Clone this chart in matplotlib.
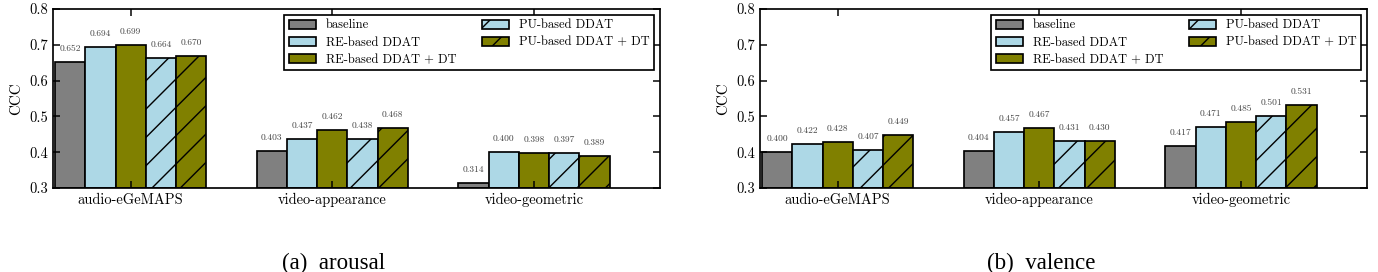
import matplotlib
matplotlib.use("Agg")
import matplotlib.pyplot as plt
import numpy as np

categories = ["audio-eGeMAPS", "video-appearance", "video-geometric"]
methods = ["baseline", "RE-based DDAT", "RE-based DDAT + DT", "PU-based DDAT", "PU-based DDAT + DT"]
arousal = {
    "baseline": [0.652, 0.403, 0.314],
    "RE-based DDAT": [0.694, 0.437, 0.400],
    "RE-based DDAT + DT": [0.699, 0.462, 0.398],
    "PU-based DDAT": [0.664, 0.438, 0.397],
    "PU-based DDAT + DT": [0.670, 0.468, 0.389],
}
valence = {
    "baseline": [0.400, 0.404, 0.417],
    "RE-based DDAT": [0.422, 0.457, 0.471],
    "RE-based DDAT + DT": [0.428, 0.467, 0.485],
    "PU-based DDAT": [0.407, 0.431, 0.501],
    "PU-based DDAT + DT": [0.449, 0.430, 0.531],
}
yticks = [0.3, 0.4, 0.5, 0.6, 0.7, 0.8]
captions = ["(a)  arousal", "(b)  valence"]

colors = ["#808080", "#add8e6", "#808000", "#add8e6", "#808000"]
hatches = [None, None, None, "/", "/"]

DPI = 85
P = 72.0 / DPI  # points per pixel

plt.rcParams["font.family"] = ["cmr10", "DejaVu Serif"]
plt.rcParams["axes.formatter.use_mathtext"] = True
plt.rcParams["hatch.linewidth"] = 1.4 * P

fig = plt.figure(figsize=(1378 / DPI, 272 / DPI), dpi=DPI)
axes_rects = [[53 / 1378, 1 - 188 / 272, 607 / 1378, 179 / 272],
              [760 / 1378, 1 - 188 / 272, 607 / 1378, 179 / 272]]
cap_x = [334 / 1378, 1041 / 1378]
width = 0.15
x = np.arange(len(categories))

for k, (data, rect, cap) in enumerate(zip([arousal, valence], axes_rects, captions)):
    ax = fig.add_axes(rect)
    for i, m in enumerate(methods):
        pos = x + (i - 2) * width
        vals = data[m]
        ax.bar(pos, np.array(vals) - 0.3, width, bottom=0.3, color=colors[i],
               edgecolor="black", linewidth=1.7 * P, hatch=hatches[i], label=m)
        for p, v in zip(pos, vals):
            ax.text(p, v + 0.037, f"{v:.3f}", ha="center", va="center",
                    fontsize=9.5 * P, color="#444444")
    ax.set_xlim(-0.385, 2.625)
    ax.set_ylim(0.3, 0.8)
    ax.set_yticks(yticks)
    ax.set_yticklabels([f"{t:.1f}" for t in yticks])
    ax.set_xticks(x)
    ax.set_xticklabels(categories)
    ax.tick_params(direction="in", top=True, right=True, labelsize=14.5 * P,
                   length=7 * P, width=1.5 * P, colors="black")
    ax.tick_params(axis="x", pad=5 * P)
    ax.tick_params(axis="y", pad=5 * P)
    ax.set_ylabel("CCC", fontsize=15 * P, labelpad=6 * P)
    for s in ax.spines.values():
        s.set_linewidth(1.7 * P)
    leg = ax.legend(ncol=2, loc="upper right", bbox_to_anchor=(1 - 6 / 607, 1 - 6 / 179),
                    borderaxespad=0, fontsize=12.5 * P,
                    frameon=True, fancybox=False, edgecolor="black", framealpha=1,
                    handlelength=2.2, handleheight=0.7, handletextpad=0.8,
                    columnspacing=2.0, labelspacing=0.4, borderpad=0.35)
    leg.get_frame().set_linewidth(1.7 * P)
    fig.text(cap_x[k], 3 / 272, cap, ha="center", va="baseline",
             fontsize=23 * P, family=["Liberation Serif"])

fig.savefig("out.png", dpi=DPI)
